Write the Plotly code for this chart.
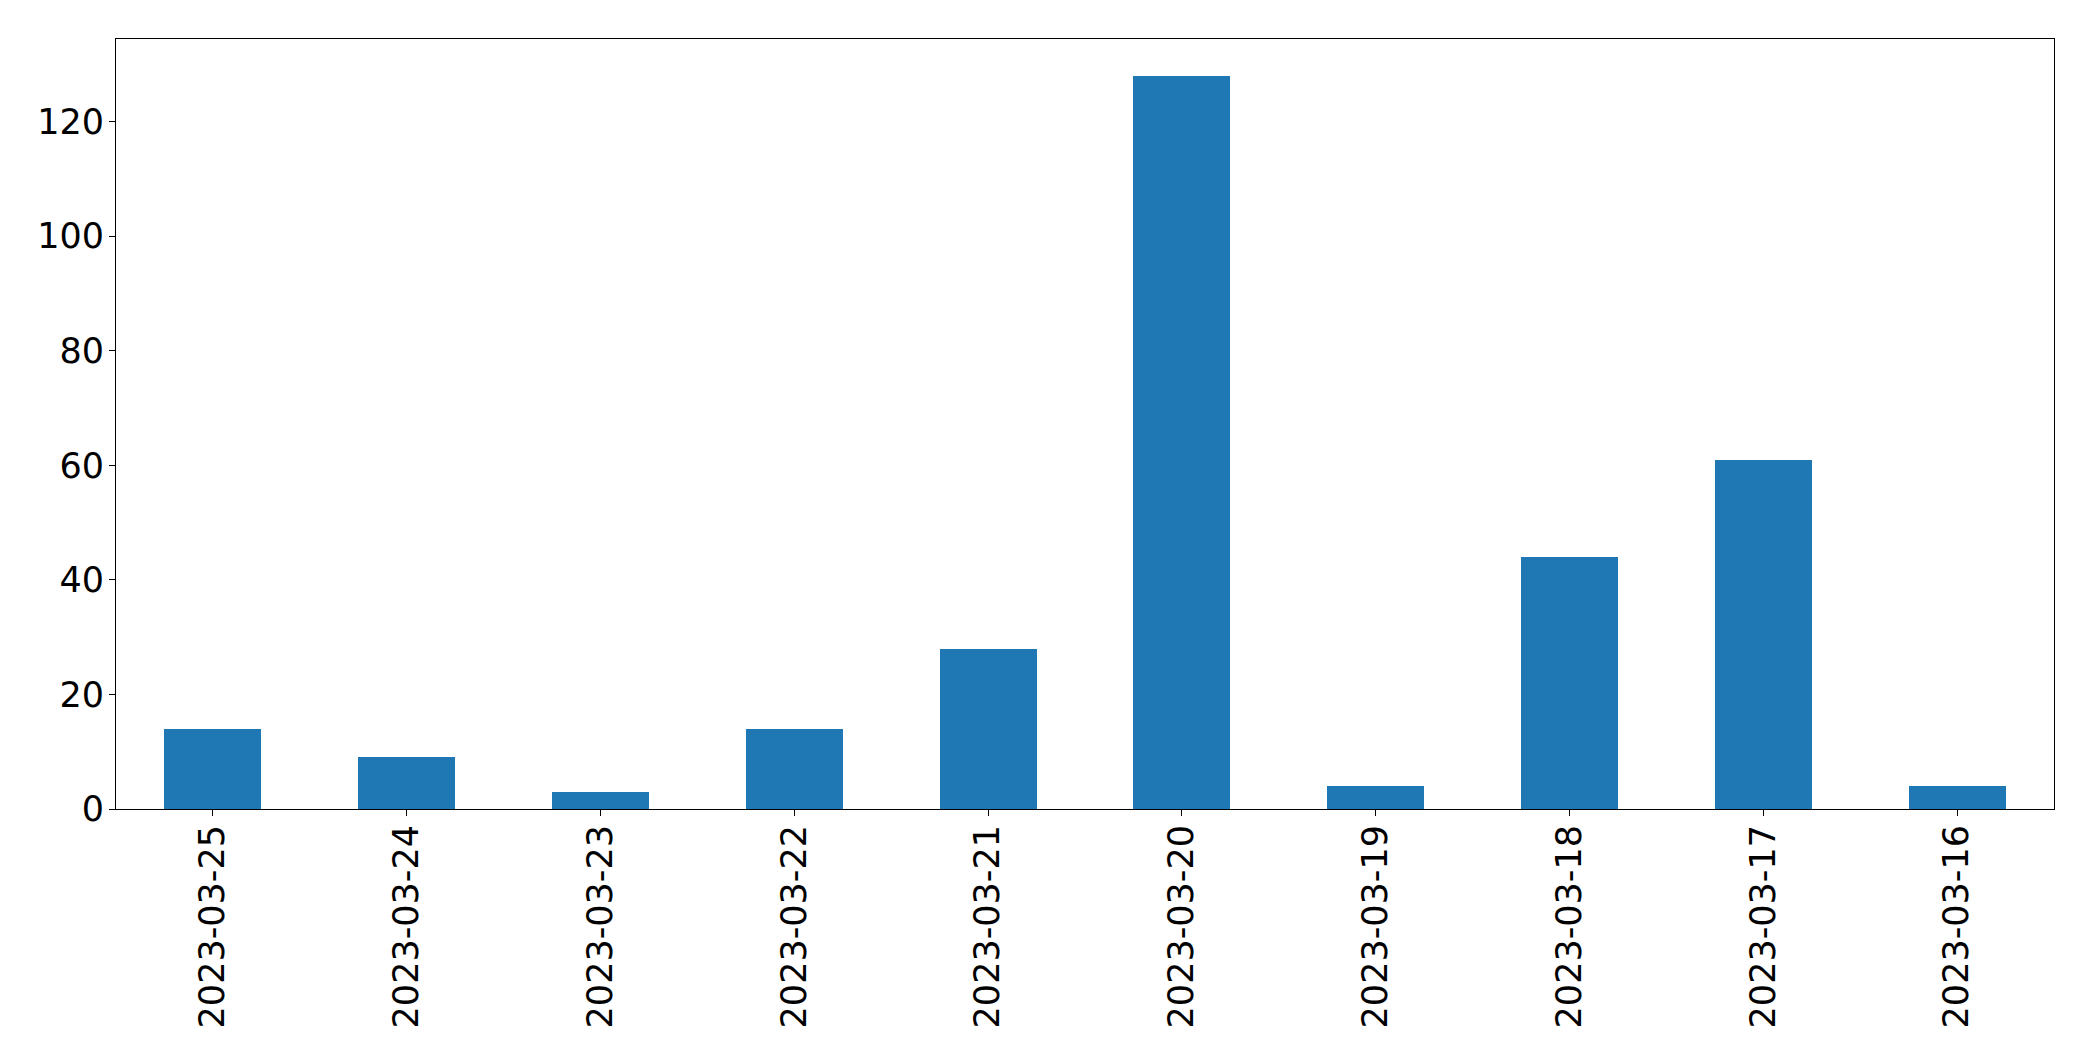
import plotly.graph_objects as go

dates = ["2023-03-25", "2023-03-24", "2023-03-23", "2023-03-22", "2023-03-21",
         "2023-03-20", "2023-03-19", "2023-03-18", "2023-03-17", "2023-03-16"]
counts = [14, 9, 3, 14, 28, 128, 4, 44, 61, 4]
y_ticks = [0, 20, 40, 60, 80, 100, 120]

fig = go.Figure(go.Bar(x=list(range(len(dates))), y=counts, width=0.5,
                       marker=dict(color="#1f77b4", line=dict(width=0))))

fig.update_layout(
    width=2085, height=1053,
    margin=dict(l=108, r=39, t=31, b=252, pad=0),
    paper_bgcolor="white", plot_bgcolor="white",
    font=dict(family="DejaVu Sans", size=35, color="black"),
    showlegend=False,
    bargap=0,
)
fig.update_xaxes(
    range=[-0.5, len(dates) - 0.5],
    tickmode="array", tickvals=list(range(len(dates))), ticktext=dates,
    tickangle=-90, ticks="outside", ticklen=6, tickwidth=1, tickcolor="black",
    showline=True, linecolor="black", linewidth=1, mirror=True,
    showgrid=False, zeroline=False, ticklabelstandoff=-5,
)
fig.update_yaxes(
    range=[0, 134.4],
    tickmode="array", tickvals=y_ticks,
    ticks="outside", ticklen=6, tickwidth=1, tickcolor="black",
    showline=True, linecolor="black", linewidth=1, mirror=True,
    showgrid=False, zeroline=False, ticklabelstandoff=-2,
)
fig.write_html("out.html")
